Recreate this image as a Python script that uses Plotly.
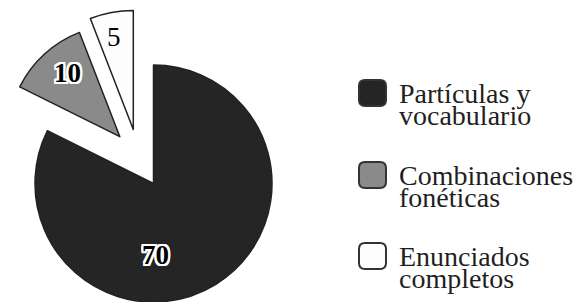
import plotly.graph_objects as go

# ---- data ----
values = [70, 10, 5]
labels = ["Partículas y vocabulario", "Combinaciones fonéticas", "Enunciados completos"]
legend_lines = [["Partículas y", "vocabulario"], ["Combinaciones", "fonéticas"], ["Enunciados", "completos"]]
colors = ["#252525", "#8a8a8a", "#fdfdfd"]

W, H = 582, 302
OFF = 8  # page body margin
FONT = "Liberation Serif"
TRANSP = "rgba(0,0,0,0)"

# screen-pixel geometry of each slice's pie (center x, center y, radius)
geom = [(153.5, 183.5, 118.5), (116.0, 136.7, 115.7), (133.3, 129.5, 119.0)]
label_pos = [(155, 255), (67, 73), (114, 37)]
halo = [True, True, False]


def px(x):
    return (x - OFF) / W


def py(y):
    return 1 - (y - OFF) / H


fig = go.Figure()
for i, (cx, cy, r) in enumerate(geom):
    mcol = [colors[j] if j == i else TRANSP for j in range(len(values))]
    lcol = ["#222222" if j == i else TRANSP for j in range(len(values))]
    fig.add_trace(go.Pie(
        values=values,
        labels=labels,
        sort=False,
        direction="clockwise",
        rotation=0,
        marker=dict(colors=mcol, line=dict(color=lcol, width=1.5)),
        textinfo="none",
        hoverinfo="skip",
        showlegend=False,
        domain=dict(x=[max(0, px(cx - r)), min(1, px(cx + r))],
                    y=[max(0, py(cy + r)), min(1, py(cy - r))]),
    ))

shadow = ", ".join(f"{dx}px {dy}px 0 #ffffff" for dx, dy in
                   [(2, 0), (-2, 0), (0, 2), (0, -2), (2, 2), (-2, -2), (2, -2), (-2, 2),
                    (1, 2), (2, 1), (-1, 2), (-2, 1), (1, -2), (2, -1), (-1, -2), (-2, -1)])
for i, v in enumerate(values):
    x, y = label_pos[i]
    fnt = dict(family=FONT, size=27, color="#000000", weight=600 if halo[i] else 400)
    if halo[i]:
        fnt["shadow"] = shadow
    fig.add_annotation(x=px(x), y=py(y), xref="paper", yref="paper",
                       text=str(v), showarrow=False, font=fnt,
                       xanchor="center", yanchor="middle")

# legend drawn as rounded swatches + text
sw_x0, sw_x1 = 359, 386
sw_centers = [93, 175, 256]
rad = 6


def P(x, y):
    return f"{px(x):.5f},{py(y):.5f}"


for i, yc in enumerate(sw_centers):
    y0p, y1p = yc - 13, yc + 13
    path = (f"M {P(sw_x0 + rad, y0p)} L {P(sw_x1 - rad, y0p)} Q {P(sw_x1, y0p)} {P(sw_x1, y0p + rad)} "
            f"L {P(sw_x1, y1p - rad)} Q {P(sw_x1, y1p)} {P(sw_x1 - rad, y1p)} "
            f"L {P(sw_x0 + rad, y1p)} Q {P(sw_x0, y1p)} {P(sw_x0, y1p - rad)} "
            f"L {P(sw_x0, y0p + rad)} Q {P(sw_x0, y0p)} {P(sw_x0 + rad, y0p)} Z")
    fig.add_shape(type="path", path=path, xref="paper", yref="paper",
                  fillcolor=colors[i], line=dict(color="#333333", width=2))
    for k, line in enumerate(legend_lines[i]):
        fig.add_annotation(x=px(397), y=py(yc + k * 22.5), xref="paper", yref="paper",
                           text=line, showarrow=False,
                           font=dict(family=FONT, size=28, color="#1f1f1f"),
                           xanchor="left", yanchor="middle")

fig.update_layout(width=W, height=H, margin=dict(l=0, r=0, t=0, b=0),
                  paper_bgcolor="white", plot_bgcolor="white",
                  font=dict(family=FONT))
fig.write_html("out.html")
